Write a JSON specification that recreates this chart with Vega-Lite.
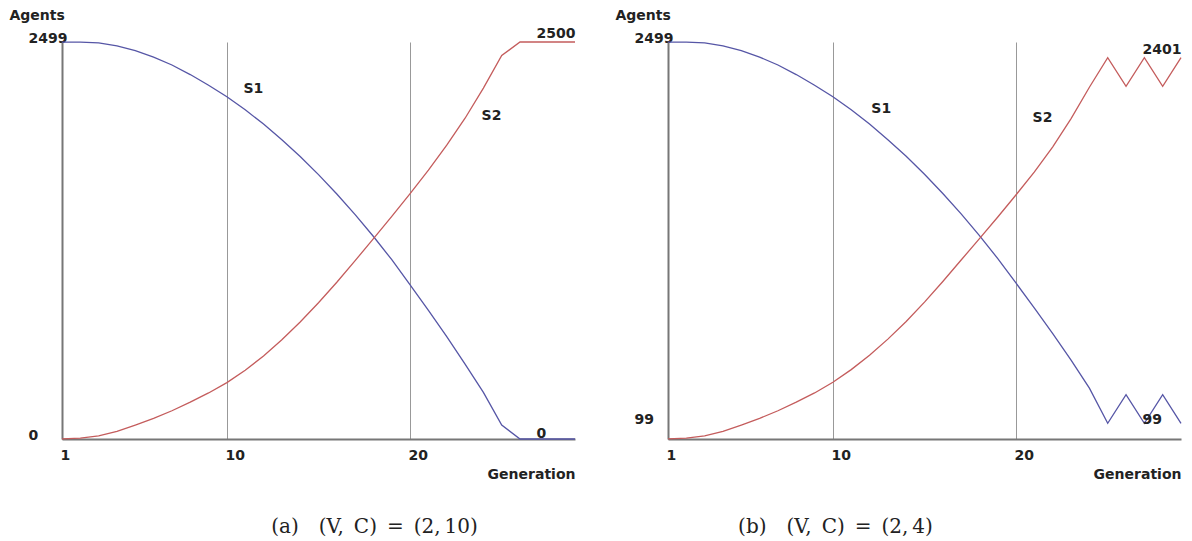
{
  "$schema": "https://vega.github.io/schema/vega-lite/v6.json",
  "background": "white",
  "padding": {"left": 9, "top": 8, "right": 5, "bottom": 5},
  "spacing": 37,
  "config": {"view": {"stroke": null}},
  "datasets": {
    "lines_a": [
      {"g":1,"s":"S1","n":2499},{"g":2,"s":"S1","n":2499},{"g":3,"s":"S1","n":2495},{"g":4,"s":"S1","n":2475},{"g":5,"s":"S1","n":2445},{"g":6,"s":"S1","n":2405},{"g":7,"s":"S1","n":2355},{"g":8,"s":"S1","n":2295},{"g":9,"s":"S1","n":2228},{"g":10,"s":"S1","n":2155},{"g":11,"s":"S1","n":2073},{"g":12,"s":"S1","n":1983},{"g":13,"s":"S1","n":1885},{"g":14,"s":"S1","n":1779},{"g":15,"s":"S1","n":1665},{"g":16,"s":"S1","n":1543},{"g":17,"s":"S1","n":1413},{"g":18,"s":"S1","n":1275},{"g":19,"s":"S1","n":1129},{"g":20,"s":"S1","n":970},{"g":21,"s":"S1","n":810},{"g":22,"s":"S1","n":644},{"g":23,"s":"S1","n":472},{"g":24,"s":"S1","n":294},{"g":25,"s":"S1","n":88},{"g":26,"s":"S1","n":0},{"g":27,"s":"S1","n":0},{"g":28,"s":"S1","n":0},{"g":29,"s":"S1","n":0},
      {"g":1,"s":"S2","n":1},{"g":2,"s":"S2","n":6},{"g":3,"s":"S2","n":20},{"g":4,"s":"S2","n":48},{"g":5,"s":"S2","n":88},{"g":6,"s":"S2","n":130},{"g":7,"s":"S2","n":178},{"g":8,"s":"S2","n":232},{"g":9,"s":"S2","n":290},{"g":10,"s":"S2","n":355},{"g":11,"s":"S2","n":433},{"g":12,"s":"S2","n":523},{"g":13,"s":"S2","n":625},{"g":14,"s":"S2","n":737},{"g":15,"s":"S2","n":858},{"g":16,"s":"S2","n":987},{"g":17,"s":"S2","n":1123},{"g":18,"s":"S2","n":1262},{"g":19,"s":"S2","n":1402},{"g":20,"s":"S2","n":1545},{"g":21,"s":"S2","n":1693},{"g":22,"s":"S2","n":1850},{"g":23,"s":"S2","n":2020},{"g":24,"s":"S2","n":2210},{"g":25,"s":"S2","n":2415},{"g":26,"s":"S2","n":2500},{"g":27,"s":"S2","n":2500},{"g":28,"s":"S2","n":2500},{"g":29,"s":"S2","n":2500}
    ],
    "lines_b": [
      {"g":1,"s":"S1","n":2499},{"g":2,"s":"S1","n":2499},{"g":3,"s":"S1","n":2495},{"g":4,"s":"S1","n":2475},{"g":5,"s":"S1","n":2445},{"g":6,"s":"S1","n":2405},{"g":7,"s":"S1","n":2355},{"g":8,"s":"S1","n":2295},{"g":9,"s":"S1","n":2228},{"g":10,"s":"S1","n":2155},{"g":11,"s":"S1","n":2073},{"g":12,"s":"S1","n":1983},{"g":13,"s":"S1","n":1885},{"g":14,"s":"S1","n":1780},{"g":15,"s":"S1","n":1667},{"g":16,"s":"S1","n":1546},{"g":17,"s":"S1","n":1418},{"g":18,"s":"S1","n":1281},{"g":19,"s":"S1","n":1136},{"g":20,"s":"S1","n":981},{"g":21,"s":"S1","n":824},{"g":22,"s":"S1","n":664},{"g":23,"s":"S1","n":497},{"g":24,"s":"S1","n":320},{"g":25,"s":"S1","n":99},{"g":26,"s":"S1","n":279},{"g":27,"s":"S1","n":99},{"g":28,"s":"S1","n":279},{"g":29,"s":"S1","n":99},
      {"g":1,"s":"S2","n":1},{"g":2,"s":"S2","n":5},{"g":3,"s":"S2","n":20},{"g":4,"s":"S2","n":48},{"g":5,"s":"S2","n":88},{"g":6,"s":"S2","n":130},{"g":7,"s":"S2","n":178},{"g":8,"s":"S2","n":232},{"g":9,"s":"S2","n":290},{"g":10,"s":"S2","n":357},{"g":11,"s":"S2","n":437},{"g":12,"s":"S2","n":527},{"g":13,"s":"S2","n":629},{"g":14,"s":"S2","n":740},{"g":15,"s":"S2","n":862},{"g":16,"s":"S2","n":992},{"g":17,"s":"S2","n":1127},{"g":18,"s":"S2","n":1262},{"g":19,"s":"S2","n":1398},{"g":20,"s":"S2","n":1538},{"g":21,"s":"S2","n":1682},{"g":22,"s":"S2","n":1840},{"g":23,"s":"S2","n":2018},{"g":24,"s":"S2","n":2215},{"g":25,"s":"S2","n":2401},{"g":26,"s":"S2","n":2221},{"g":27,"s":"S2","n":2401},{"g":28,"s":"S2","n":2221},{"g":29,"s":"S2","n":2401}
    ],
    "labels_a": [
      {"g":10.9,"n":2204,"t":"S1"},{"g":23.9,"n":2034,"t":"S2"},{"g":26.9,"n":2550,"t":"2500"},{"g":26.9,"n":31,"t":"0"}
    ],
    "labels_b": [
      {"g":12.1,"n":2079,"t":"S1"},{"g":20.9,"n":2023,"t":"S2"},{"g":26.9,"n":2450,"t":"2401"},{"g":26.9,"n":119,"t":"99"}
    ]
  },
  "hconcat": [
    {
      "width": 513,
      "height": 397,
      "title": {"text": "(a)\u2003(V,\u2002C)\u2002=\u2002(2,\u200910)", "orient": "bottom", "anchor": "middle", "dx": 56, "offset": 36, "font": "DejaVu Serif", "fontSize": 20, "fontWeight": "normal", "color": "#222"},
      "encoding": {
        "x": {"field": "g", "type": "quantitative", "scale": {"domain": [1, 29], "nice": false, "zero": false},
          "axis": {"title": "Generation", "values": [1, 10, 20], "grid": true, "gridColor": "#999", "gridWidth": 1, "ticks": false, "tickSize": 0, "domainColor": "#777", "domainWidth": 2, "labelAlign": "left", "labelBaseline": "middle", "labelPadding": 16, "labelOffset": -2, "labelFlush": false, "labelOverlap": false, "labelFont": "DejaVu Sans", "labelFontWeight": "bold", "labelFontSize": 14, "labelColor": "#222", "titleAlign": "right", "titleBaseline": "middle", "titleX": 513, "titleY": 35, "titleFont": "DejaVu Sans", "titleFontWeight": "bold", "titleFontSize": 14, "titleColor": "#222"}},
        "y": {"field": "n", "type": "quantitative", "scale": {"domain": [0, 2500], "nice": false},
          "axis": {"title": "Agents", "values": [0, 2499], "format": "d", "grid": false, "ticks": false, "tickSize": 0, "domainColor": "#777", "domainWidth": 2, "labelAlign": "left", "labelBaseline": "alphabetic", "labelPadding": 34, "labelFlush": false, "labelOverlap": false, "labelFont": "DejaVu Sans", "labelFontWeight": "bold", "labelFontSize": 14, "labelColor": "#222", "titleAngle": 0, "titleAlign": "left", "titleBaseline": "middle", "titleX": -53, "titleY": -27, "titleFont": "DejaVu Sans", "titleFontWeight": "bold", "titleFontSize": 14, "titleColor": "#222"}}
      },
      "layer": [
        {"data": {"name": "lines_a"}, "mark": {"type": "line", "strokeWidth": 1.3},
          "encoding": {"color": {"field": "s", "type": "nominal", "scale": {"domain": ["S1", "S2"], "range": ["#5656a6", "#c45c5c"]}, "legend": null}}},
        {"data": {"name": "labels_a"}, "mark": {"type": "text", "align": "left", "baseline": "middle", "font": "DejaVu Sans", "fontWeight": "bold", "fontSize": 14, "color": "#222"},
          "encoding": {"text": {"field": "t", "type": "nominal"}}}
      ]
    },
    {
      "width": 513,
      "height": 397,
      "title": {"text": "(b)\u2003(V,\u2002C)\u2002=\u2002(2,\u20094)", "orient": "bottom", "anchor": "middle", "dx": -89, "offset": 36, "font": "DejaVu Serif", "fontSize": 20, "fontWeight": "normal", "color": "#222"},
      "encoding": {
        "x": {"field": "g", "type": "quantitative", "scale": {"domain": [1, 29], "nice": false, "zero": false},
          "axis": {"title": "Generation", "values": [1, 10, 20], "grid": true, "gridColor": "#999", "gridWidth": 1, "ticks": false, "tickSize": 0, "domainColor": "#777", "domainWidth": 2, "labelAlign": "left", "labelBaseline": "middle", "labelPadding": 16, "labelOffset": -2, "labelFlush": false, "labelOverlap": false, "labelFont": "DejaVu Sans", "labelFontWeight": "bold", "labelFontSize": 14, "labelColor": "#222", "titleAlign": "right", "titleBaseline": "middle", "titleX": 513, "titleY": 35, "titleFont": "DejaVu Sans", "titleFontWeight": "bold", "titleFontSize": 14, "titleColor": "#222"}},
        "y": {"field": "n", "type": "quantitative", "scale": {"domain": [0, 2500], "nice": false},
          "axis": {"title": "Agents", "values": [99, 2499], "format": "d", "grid": false, "ticks": false, "tickSize": 0, "domainColor": "#777", "domainWidth": 2, "labelAlign": "left", "labelBaseline": "alphabetic", "labelPadding": 34, "labelFlush": false, "labelOverlap": false, "labelFont": "DejaVu Sans", "labelFontWeight": "bold", "labelFontSize": 14, "labelColor": "#222", "titleAngle": 0, "titleAlign": "left", "titleBaseline": "middle", "titleX": -53, "titleY": -27, "titleFont": "DejaVu Sans", "titleFontWeight": "bold", "titleFontSize": 14, "titleColor": "#222"}}
      },
      "layer": [
        {"data": {"name": "lines_b"}, "mark": {"type": "line", "strokeWidth": 1.3},
          "encoding": {"color": {"field": "s", "type": "nominal", "scale": {"domain": ["S1", "S2"], "range": ["#5656a6", "#c45c5c"]}, "legend": null}}},
        {"data": {"name": "labels_b"}, "mark": {"type": "text", "align": "left", "baseline": "middle", "font": "DejaVu Sans", "fontWeight": "bold", "fontSize": 14, "color": "#222"},
          "encoding": {"text": {"field": "t", "type": "nominal"}}}
      ]
    }
  ]
}
